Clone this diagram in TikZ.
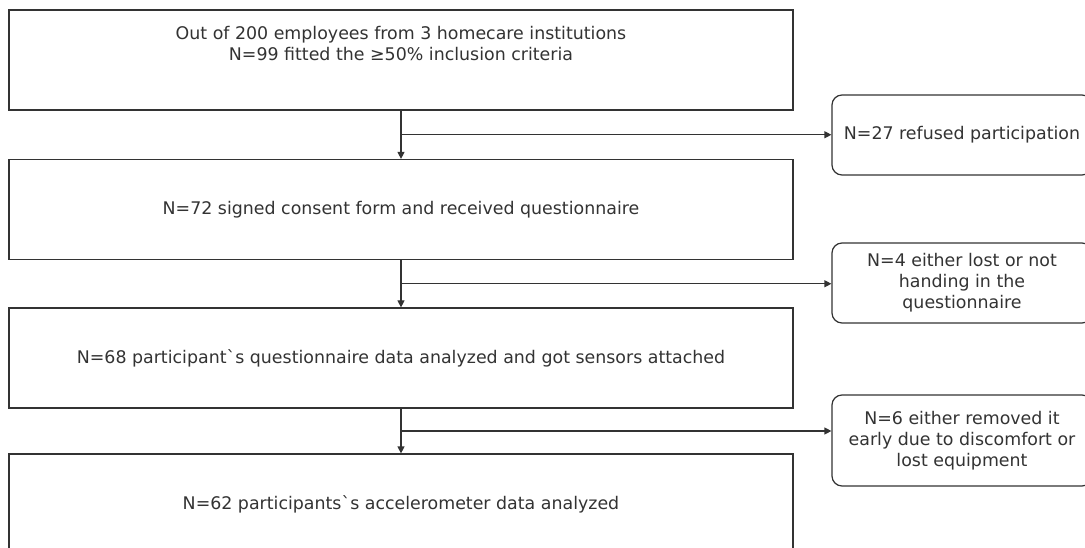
\documentclass[tikz,border=0pt]{standalone}
\usepackage{fontspec}
\setmainfont{DejaVu Sans}[Ligatures=TeXOff]
\usetikzlibrary{arrows.meta,calc}
\definecolor{ink}{HTML}{333333}
\begin{document}
\begin{tikzpicture}[x=1pt,y=-1pt,
  mainbox/.style={draw=ink,line width=1.2pt,minimum width=784pt,minimum height=100pt,inner sep=0pt,text=ink,font=\fontsize{17.4}{21}\selectfont},
  sidebox/.style={draw=ink,line width=1.2pt,rounded corners=10pt,minimum width=260pt,inner sep=0pt,text=ink,align=center,font=\fontsize{17.4}{21}\selectfont},
  txt/.style={text=ink,align=center,font=\fontsize{17.4}{21}\selectfont,inner sep=0pt},
  conn/.style={draw=ink,line width=1.2pt},
  arr/.style={conn,-{Triangle[length=7pt,width=7pt]}}]
\clip (0,0) rectangle (1085,548);
\fill[white] (0,0) rectangle (1085,548);
% main boxes
\node[mainbox] (b1) at (401,60) {};
\node[txt,anchor=north] (t1) at (401,26) {Out of 200 employees from 3 homecare institutions\\N=99 fitted the ≥50\% inclusion criteria};
\node[mainbox] (b2) at (401,209.5) {N=72 signed consent form and received questionnaire};
\node[mainbox] (b3) at (401,358) {N=68 participant`s questionnaire data analyzed and got sensors attached};
\node[mainbox] (b4) at (401,504) {N=62 participants`s accelerometer data analyzed};
% side boxes
\node[sidebox,minimum height=80pt] (r1) at (962,135) {N=27 refused participation};
\node[sidebox,minimum height=80pt] (r2) at (962,283) {N=4 either lost or not\\handing in the\\questionnaire};
\node[sidebox,minimum height=91pt] (r3) at (962,440.5) {N=6 either removed it\\early due to discomfort or\\lost equipment};
% junctions
\coordinate (j1) at ($(b1.south)!0.5!(b2.north)$);
\coordinate (j2) at ($(b2.south)!0.5!(b3.north)$);
\coordinate (j3) at ($(b3.south)!0.5!(b4.north)$);
% connectors
\draw[arr] (b1.south) -- (b2.north);
\draw[arr] (b2.south) -- (b3.north);
\draw[arr] (b3.south) -- (b4.north);
\draw[arr] (j1) -- (j1 -| r1.west);
\draw[arr] (j2) -- (j2 -| r2.west);
\draw[arr] (j3) -- (j3 -| r3.west);
\end{tikzpicture}
\end{document}
